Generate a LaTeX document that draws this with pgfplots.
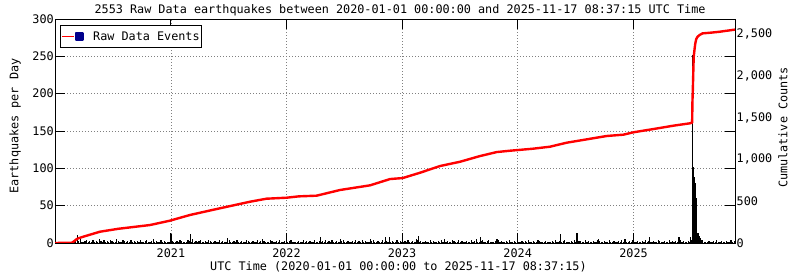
\documentclass[border=0pt]{standalone}
\usepackage{fontspec}
\setmainfont{DejaVu Sans Mono}
\usepackage{pgfplots}
\pgfplotsset{compat=1.18}
\usepackage{pgfplotstable}
\definecolor{navyc}{RGB}{0,0,140}
\newcommand{\f}{\fontsize{11.8}{14}\selectfont}

% daily counts sampled every 5 days from day 60 (2020-03-01)
\pgfplotstableread[header=false,row sep=\\]{
3\\4\\2\\3\\5\\2\\1\\3\\4\\2\\3\\2\\4\\1\\3\\2\\5\\3\\2\\4\\
2\\3\\1\\4\\3\\2\\2\\5\\3\\1\\2\\4\\3\\2\\3\\1\\4\\2\\3\\2\\
3\\2\\4\\1\\2\\3\\4\\2\\1\\3\\5\\2\\3\\1\\2\\4\\2\\3\\2\\1\\
2\\4\\3\\2\\1\\3\\2\\4\\3\\2\\1\\2\\4\\3\\2\\5\\1\\3\\2\\3\\
4\\1\\2\\3\\2\\4\\3\\1\\2\\3\\2\\1\\4\\2\\3\\2\\1\\3\\4\\2\\
2\\3\\2\\4\\1\\2\\3\\2\\1\\4\\3\\2\\2\\3\\1\\2\\4\\2\\3\\1\\
3\\2\\1\\2\\4\\3\\2\\1\\3\\2\\4\\2\\1\\3\\2\\2\\3\\4\\1\\2\\
2\\1\\3\\2\\2\\4\\1\\3\\2\\3\\1\\2\\4\\2\\1\\3\\2\\3\\2\\4\\
1\\3\\2\\4\\2\\1\\3\\2\\2\\3\\4\\1\\2\\3\\2\\1\\3\\2\\4\\2\\
3\\2\\4\\1\\3\\2\\1\\2\\3\\4\\2\\1\\3\\2\\2\\4\\1\\3\\2\\1\\
2\\3\\1\\2\\4\\2\\3\\1\\2\\3\\2\\4\\1\\2\\3\\2\\1\\4\\2\\3\\
1\\2\\3\\2\\1\\4\\2\\3\\2\\1\\3\\2\\4\\2\\1\\2\\3\\1\\2\\4\\
3\\1\\2\\4\\2\\3\\1\\2\\3\\2\\1\\4\\2\\3\\2\\1\\2\\3\\4\\2\\
2\\3\\4\\1\\2\\2\\3\\1\\4\\2\\3\\2\\1\\3\\2\\4\\2\\1\\3\\2\\
4\\2\\1\\3\\2\\3\\2\\4\\1\\2\\3\\1\\2\\4\\3\\2\\1\\2\\3\\2\\
2\\1\\3\\2\\4\\2\\1\\3\\2\\3\\4\\2\\1\\2\\3\\2\\4\\1\\2\\3\\
3\\2\\2\\4\\1\\3\\2\\1\\3\\2\\2\\4\\3\\1\\2\\3\\2\\1\\4\\2\\
1\\3\\2\\2\\3\\1\\4\\2\\3\\2\\1\\3\\2\\4\\2\\1\\3\\2\\2\\3\\
2\\4\\1\\3\\2\\2\\3\\1\\2\\4\\3\\2\\1\\3\\2\\2\\4\\1\\3\\2\\
3\\1\\2\\4\\2\\3\\2\\1\\3\\2\\4\\1\\2\\3\\2\\1\\3\\4\\2\\2\\
2\\3\\1\\2\\3\\2\\4\\1\\2\\3\\2\\1\\3\\2\\2\\4\\1\\3\\2\\2\\
}\noise

\begin{document}
\begin{tikzpicture}
\useasboundingbox (-55pt,-37pt) rectangle (745pt,243pt);
\begin{axis}[
  at={(0pt,0pt)}, anchor=south west,
  scale only axis, width=680pt, height=224pt,
  xmin=0, xmax=2147.36, ymin=0, ymax=300,
  xtick={366,731,1096,1461,1827},
  xticklabels={2021,2022,2023,2024,2025},
  ytick={0,50,...,300},
  tick align=inside, tick pos=both, major tick length=10pt,
  tick style={black, line width=0.9pt},
  xmajorgrids, ymajorgrids,
  major grid style={gray, line width=0.7pt, dash pattern=on 0.8pt off 2.2pt},
  axis line style={line width=0.9pt},
  tick label style={font=\f},
  /pgf/number format/assume math mode=true,
  xticklabel style={anchor=base, yshift=-14.3pt},
  yticklabel style={anchor=east, inner xsep=1pt},
  title={2553 Raw Data earthquakes between 2020-01-01 00:00:00 and 2025-11-17 08:37:15 UTC Time},
  title style={font=\f, at={(axis description cs:0.5074,1)}, anchor=base, yshift=-0.3pt},
  xlabel={UTC Time (2020-01-01 00:00:00 to 2025-11-17 08:37:15)},
  xlabel style={font=\f, at={(axis description cs:0.5051,0)}, anchor=base, yshift=-28pt},
  ylabel={Earthquakes per Day},
  ylabel style={font=\f, at={(axis description cs:-0.0537,0.5223)}, anchor=base},
]
\addplot[ycomb, black, line width=1.25pt, mark=none] table[x expr=60+5*\coordindex, y index=0] {\noise};
\addplot[ycomb, black, line width=1pt, mark=none] coordinates {
(70,11) (368,12) (429,12) (545,7) (655,5) (730,12) (837,8) (900,5) (995,5)
(1043,8) (1056,8) (1097,11) (1143,5) (1147,10) (1230,5) (1330,5) (1345,8)
(1395,5) (1398,5) (1460,12) (1597,12) (1647,13) (1650,13) (1716,5) (1799,6)
(1802,6) (1826,12) (1877,8) (1968,8) (1971,8) (2008,8)
};
\addplot[ycomb, black, line width=0.7pt, mark=none] coordinates {
(2012,252) (2013,104) (2014,104) (2015,102) (2016,100) (2017,98) (2018,89)
(2019,89) (2020,86) (2021,80) (2022,75) (2023,67) (2024,60) (2025,45)
(2026,35) (2027,13) (2028,12) (2029,13) (2030,11) (2031,13) (2032,10)
(2033,9) (2034,10) (2035,8) (2036,10) (2037,7) (2038,6) (2039,5) (2040,4)
};
\end{axis}
\begin{axis}[
  at={(0pt,0pt)}, anchor=south west,
  scale only axis, width=680pt, height=224pt,
  xmin=0, xmax=2147.36, ymin=0, ymax=2680,
  axis x line=none, axis y line*=right,
  axis line style={-, line width=0.9pt},
  ytick={0,500,...,2500}, major tick length=0pt,
  /pgf/number format/assume math mode=true,
  /pgf/number format/1000 sep={,},
  yticklabel style={font=\f, anchor=west, inner xsep=1.5pt},
  ylabel={Cumulative Counts},
  ylabel style={font=\f, at={(axis description cs:1.0769,0.5156)}, anchor=base},
  legend style={at={(axis description cs:0.00735,0.9732)}, anchor=north west,
    draw=black, line width=0.9pt, fill=white, font=\f,
    inner xsep=1pt, inner ysep=5pt, nodes={inner sep=1pt}},
]
\addplot[red, line width=2.4pt, line join=round, mark=none,
  legend image code/.code={
    \draw[red, line width=1pt] (0pt,0pt) -- (12.3pt,0pt);
    \fill[navyc] (14pt,-3.6pt) rectangle (20.7pt,3.6pt);
    \path (29pt,0pt);}
] coordinates {
(0,0) (53,3) (60,20) (68,45) (74,56) (89,75) (142,135) (200,170) (300,215)
(363,267) (426,335) (511,407) (616,494) (668,530) (732,542) (770,558)
(826,566) (900,634) (995,690) (1058,765) (1098,777) (1153,841) (1216,921)
(1279,972) (1342,1040) (1395,1088) (1437,1104) (1509,1128) (1563,1152)
(1616,1200) (1679,1240) (1742,1280) (1795,1296) (1826,1324) (1889,1363)
(1952,1403) (2005,1432) (2012,1440) (2013,1700) (2014,1810) (2016,2100)
(2017,2228) (2020,2330) (2022,2388) (2025,2440) (2029,2467) (2036,2490)
(2045,2508) (2070,2516) (2098,2527) (2147,2553)
};
\addlegendentry{Raw Data Events}
\end{axis}
\end{tikzpicture}
\end{document}
